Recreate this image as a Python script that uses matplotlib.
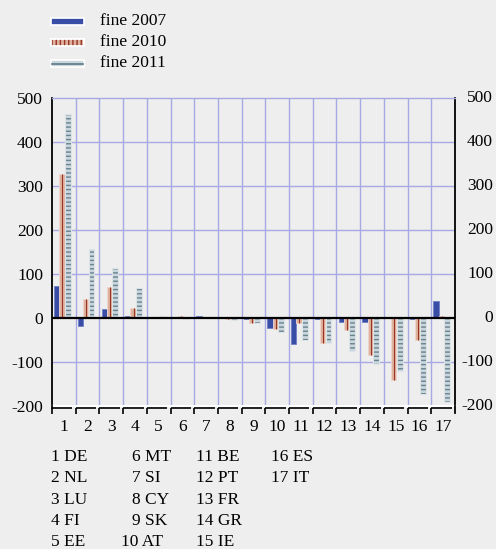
import matplotlib
matplotlib.use("Agg")
import matplotlib.pyplot as plt
import matplotlib.transforms as mtransforms
import numpy as np
from matplotlib.patches import Rectangle
from matplotlib.lines import Line2D

plt.rcParams['font.family'] = ['Liberation Serif', 'DejaVu Serif']
plt.rcParams['hatch.linewidth'] = 1.0

categories = [str(i) for i in range(1, 18)]
countries = ["DE", "NL", "LU", "FI", "EE", "MT", "SI", "CY", "SK", "AT",
             "BE", "PT", "FR", "GR", "IE", "ES", "IT"]
series_names = ["fine 2007", "fine 2010", "fine 2011"]
v2007 = [72, -20, 20, 4, 0, 0, 3, 0, -2, -24, -60, -4, -11, -9, -1, -2, 38]
v2010 = [326, 42, 69, 22, 0, 3, 2, -4, -13, -26, -13, -58, -27, -86, -142, -50, 3]
v2011 = [464, 157, 113, 67, 3, -2, 2, -6, -12, -33, -51, -58, -77, -106, -121, -173, -192]
yticks = [-200, -100, 0, 100, 200, 300, 400, 500]

BG = "#eeeeee"
BLUE = "#3a4da6"
BLUE_E = "#6f7fc4"
ORG = "#dfb29f"
ORG_L = "#983424"
LB = "#cbd5dc"
LB_H = "#66838f"
GRID = "#a6a9e2"
FS = 12.5

fig = plt.figure(figsize=(4.96, 5.49), dpi=100, facecolor=BG)
W, H = 496, 549
ax = fig.add_axes([52 / W, 1 - 405.5 / H, (455 - 52) / W, (405.5 - 98) / H])
ax.set_facecolor(BG)

x = np.arange(1, 18)
ax.bar(x - 0.30, v2007, width=0.22, color=BLUE, edgecolor=BLUE_E, linewidth=0.6, zorder=3)
ax.bar(x - 0.08, v2010, width=0.22, color=ORG, edgecolor="#efd6cc", linewidth=0.6, zorder=3)
ax.vlines(x - 0.06, 0, v2010, color=ORG_L, linewidth=0.8, zorder=4)
ax.bar(x + 0.165, v2011, width=0.25, color=LB, edgecolor=LB_H, hatch="----",
       linewidth=0, zorder=3)
ax.bar(x + 0.165, v2011, width=0.25, fill=False, edgecolor="#dde4e8", linewidth=0.8, zorder=4)

ax.set_xlim(0.5, 17.5)
ax.set_ylim(-200, 500)
ax.set_yticks(yticks)
ax.set_yticklabels([str(v) for v in yticks], fontsize=FS)
ax.tick_params(axis='y', length=0, pad=6.5)
ax.set_xticks(x)
ax.set_xticklabels(categories, fontsize=FS)
ax.tick_params(axis='x', length=0, pad=10)

for b in np.arange(1.5, 17.5, 1.0):
    ax.axvline(b, color=GRID, linewidth=1.0, zorder=1)
for yv in [-100, 100, 200, 300, 400]:
    ax.axhline(yv, color=GRID, linewidth=1.0, zorder=1)
ax.axhline(0, color="black", linewidth=1.6, zorder=5)

ax.spines['top'].set_color(GRID)
ax.spines['top'].set_linewidth(1.0)
ax.spines['bottom'].set_color("white")
ax.spines['bottom'].set_linewidth(1.5)
ax.spines['left'].set_color("black")
ax.spines['left'].set_linewidth(1.3)
ax.spines['right'].set_color("black")
ax.spines['right'].set_linewidth(1.3)

# broken bottom tick line
yl = -206
for b in np.arange(0.5, 17.5, 1.0):
    ax.plot([b, b + 0.86], [yl, yl], color="black", lw=1.2, clip_on=False, zorder=6,
            solid_capstyle='butt')
    ax.plot([b, b], [yl, -219], color="black", lw=1.2, clip_on=False, zorder=6,
            solid_capstyle='butt')
ax.plot([0.5, 0.5], [-200, yl], color="black", lw=1.3, clip_on=False, zorder=6)
ax.plot([17.5, 17.5], [-200, -218], color="black", lw=1.3, clip_on=False, zorder=6)

# right axis labels (right-aligned)
rtrans = mtransforms.blended_transform_factory(fig.transFigure, ax.transData)
for v in yticks:
    ax.text(493 / W, v, str(v), transform=rtrans, ha='right', va='center',
            fontsize=FS, clip_on=False)

# legend
def fx(px):
    return px / W

def fy(py):
    return 1 - py / H

rows = [21.3, 42.3, 63.3]
hx0, hx1, hh = 50.7, 84.0, 7.0
fig.add_artist(Rectangle((fx(hx0), fy(rows[0] + hh / 2)), fx(hx1) - fx(hx0), hh / H,
                         transform=fig.transFigure, facecolor=BLUE, edgecolor="white", lw=1.2))
fig.add_artist(Rectangle((fx(hx0), fy(rows[1] + hh / 2)), fx(hx1) - fx(hx0), hh / H,
                         transform=fig.transFigure, facecolor=ORG, edgecolor="white",
                         lw=1.2))
fig.add_artist(Rectangle((fx(hx0), fy(rows[1] + hh / 2)), fx(hx1) - fx(hx0), hh / H,
                         transform=fig.transFigure, facecolor="none", edgecolor=ORG_L,
                         hatch="||||", lw=0))
fig.add_artist(Rectangle((fx(hx0), fy(rows[1] + hh / 2)), fx(hx1) - fx(hx0), hh / H,
                         transform=fig.transFigure, facecolor="none", edgecolor="white",
                         lw=1.2))
fig.add_artist(Rectangle((fx(hx0), fy(rows[2] + hh / 2)), fx(hx1) - fx(hx0), hh / H,
                         transform=fig.transFigure, facecolor=LB, edgecolor="white", lw=1.2))
fig.add_artist(Line2D([fx(hx0 + 1), fx(hx1 - 1)], [fy(rows[2] + 0.8)] * 2,
                      transform=fig.transFigure, color=LB_H, lw=1.3))
for r, name in zip(rows, series_names):
    fig.text(fx(100), fy(r), name, fontsize=FS, va='center', ha='left')

# country key
col_x = [50.7, 131.7, 195.7, 271.0]
row_y = [456.7, 478.3, 500.0, 520.7, 541.7]
for i, c in enumerate(countries):
    col, row = divmod(i, 5)
    xx = col_x[col]
    if col == 1 and i + 1 >= 10:
        xx = 120.7
    fig.text(fx(xx), fy(row_y[row]), f"{i + 1} {c}", fontsize=FS, va='center', ha='left')

fig.savefig("out.png", dpi=100, facecolor=BG)
